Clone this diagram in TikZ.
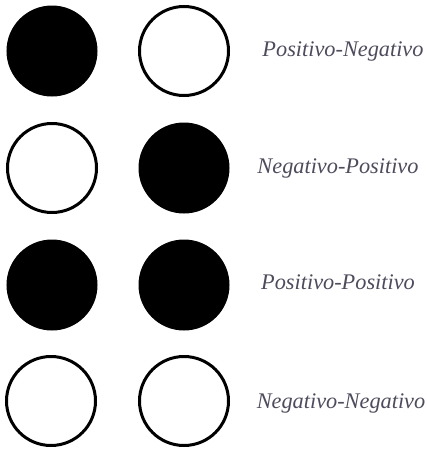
\documentclass[tikz,border=0pt]{standalone}
\usepackage{fontspec}
\setmainfont{Liberation Serif}
\definecolor{labelgray}{rgb}{0.30,0.30,0.36}
\begin{document}
\begin{tikzpicture}[x=1pt,y=-1pt,
  fulldot/.style={circle,fill=black,draw=black,line width=1pt,minimum size=90pt,inner sep=0pt},
  emptydot/.style={circle,fill=white,draw=black,line width=3pt,minimum size=89pt,inner sep=0pt},
  lbl/.style={font=\fontsize{22.3}{26}\selectfont\itshape,text=labelgray,inner sep=0pt}]
\useasboundingbox (0,0) rectangle (427,450);
\node[fulldot] (a1) at (52,51) {};
\node[emptydot] (b1) at (184,51) {};
\node[lbl] (t1) at (343,51) {Positivo-Negativo};
\node[emptydot] (a2) at (52,168) {};
\node[fulldot] (b2) at (184,168) {};
\node[lbl] (t2) at (338,168) {Negativo-Positivo};
\node[fulldot] (a3) at (52,285) {};
\node[fulldot] (b3) at (184,285) {};
\node[lbl] (t3) at (338,282) {Positivo-Positivo};
\node[emptydot] (a4) at (51,401) {};
\node[emptydot] (b4) at (184,401) {};
\node[lbl] (t4) at (341,403) {Negativo-Negativo};
\end{tikzpicture}
\end{document}
